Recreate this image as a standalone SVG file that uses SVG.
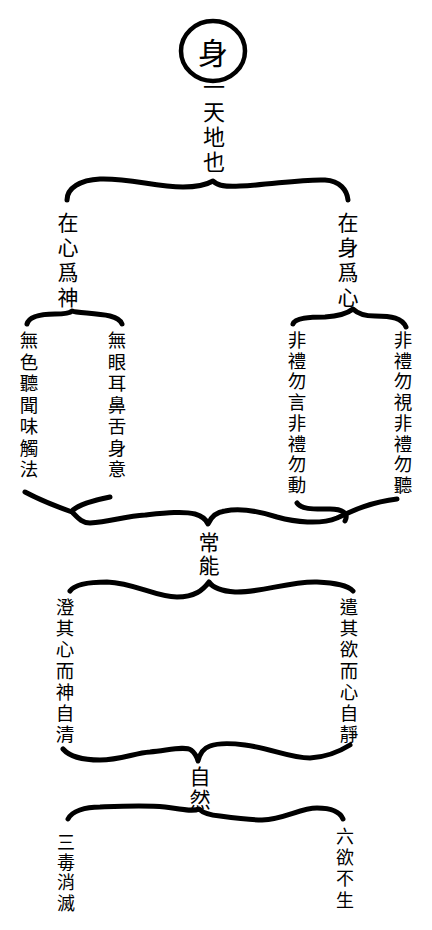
<svg xmlns="http://www.w3.org/2000/svg" width="432" height="930" viewBox="0 0 432 930">
<style>
  .bg { fill: #ffffff; }
  .t { font-family: "Noto Sans CJK TC", "Noto Sans CJK SC", sans-serif; fill: #000; }
  .v { writing-mode: vertical-rl; text-orientation: upright; }
  .l1 { font-size: 22px; letter-spacing: 3px; }
  .l2 { font-size: 21px; letter-spacing: 4px; }
  .l3 { font-size: 18.5px; letter-spacing: 3px; }
  .l3b { font-size: 18.5px; letter-spacing: 2.2px; }
  .l3c { font-size: 18.5px; letter-spacing: 2.7px; }
  .l4 { font-size: 21px; letter-spacing: 2px; }
  .l5 { font-size: 18px; letter-spacing: 2.3px; }
  .l5b { font-size: 18px; letter-spacing: 3.3px; }
  .br { fill: none; stroke: #000; stroke-width: 5; stroke-linecap: round; stroke-linejoin: round; }
  .ring { fill: none; stroke: #000; stroke-width: 4.5; }
</style>
<rect class="bg" x="0" y="0" width="432" height="930"/>

<g id="connectors">
  <path class="br" d="M67,200 C67,188 80,180 100,179 C130,178 155,187 183,187 C198,187 206,185 213,181 C218,186 226,187 240,186 C270,185 300,179 325,180 C340,181 347,190 348,200"/>
  <path class="br" d="M27,324 C29,317 40,314 55,314 C64,314 70,313 72,311 C76,313 95,313 110,316 C118,318 121,321 122,324"/>
  <path class="br" d="M293,324 C295,318 310,317 325,317 C340,316 348,313 353,309 C357,313 362,316 375,316 C392,316 402,318 406,327"/>
  <path class="br" d="M25,492 C40,500 58,507 72,512 C78,518 82,523 90,523 C110,522 125,516 145,515 C165,513 183,511 195,514 C202,516 206,519 208,524 C211,517 216,512 225,511 C240,508 255,510 277,517 C295,522 320,525 337,518 C350,512 370,502 397,499"/>
  <path class="br" d="M110,497 C95,500 80,504 73,510"/>
  <path class="br" d="M297,503 C302,510 315,509 330,509 C342,509 349,513 345,521"/>
  <path class="br" d="M70,591 C75,584 90,582 107,582 C135,583 155,597 177,597 C195,597 203,590 209,582 C213,588 220,591 235,592 C260,593 290,581 317,582 C335,583 348,585 353,591"/>
  <path class="br" d="M63,749 C70,757 85,760 100,760 C120,760 135,753 150,752 C170,750 185,746 191,750 C195,753 197,757 198,761 C200,753 204,748 210,746 C218,743 230,743 245,745 C270,748 290,758 310,758 C330,757 342,750 350,745"/>
  <path class="br" d="M68,819 C72,811 85,807 100,807 C125,806 145,805 165,807 C180,809 193,812 199,809 C203,813 208,815 220,816 C235,818 250,820 262,820 C285,819 300,808 317,808 C332,808 340,812 343,819"/>
</g>

<g id="n-shen">
  <ellipse class="ring" cx="213" cy="51" rx="32" ry="30"/>
  <text class="t" x="213" y="51" font-size="30" text-anchor="middle" dominant-baseline="central">身</text>
</g>

<g id="n-tiandi">
  <text class="t v l1" x="214" y="76">一天地也</text>
</g>

<g id="n-zaixin">
  <text class="t v l2" x="68" y="211.5">在心爲神</text>
</g>

<g id="n-zaishen">
  <text class="t v l2" x="348" y="211.5">在身爲心</text>
</g>

<g id="n-wuse">
  <text class="t v l3" x="29" y="330.75">無色聽聞味觸法</text>
</g>

<g id="n-wuyan">
  <text class="t v l3" x="117" y="330.75">無眼耳鼻舌身意</text>
</g>

<g id="n-feili-yan">
  <text class="t v l3b" x="297" y="330.75">非禮勿言非禮勿動</text>
</g>

<g id="n-feili-shi">
  <text class="t v l3b" x="403" y="330.75">非禮勿視非禮勿聽</text>
</g>

<g id="n-changneng">
  <text class="t v l4" x="209" y="531.5">常能</text>
</g>

<g id="n-cheng">
  <text class="t v l3c" x="65" y="597.75">澄其心而神自清</text>
</g>

<g id="n-qian">
  <text class="t v l3c" x="349" y="597.75">遣其欲而心自靜</text>
</g>

<g id="n-ziran">
  <text class="t v l4" x="200" y="765.5">自然</text>
</g>

<g id="n-sandu">
  <text class="t v l5" x="66" y="833">三毒消滅</text>
</g>

<g id="n-liuyu">
  <text class="t v l5b" x="345" y="827">六欲不生</text>
</g>
</svg>
